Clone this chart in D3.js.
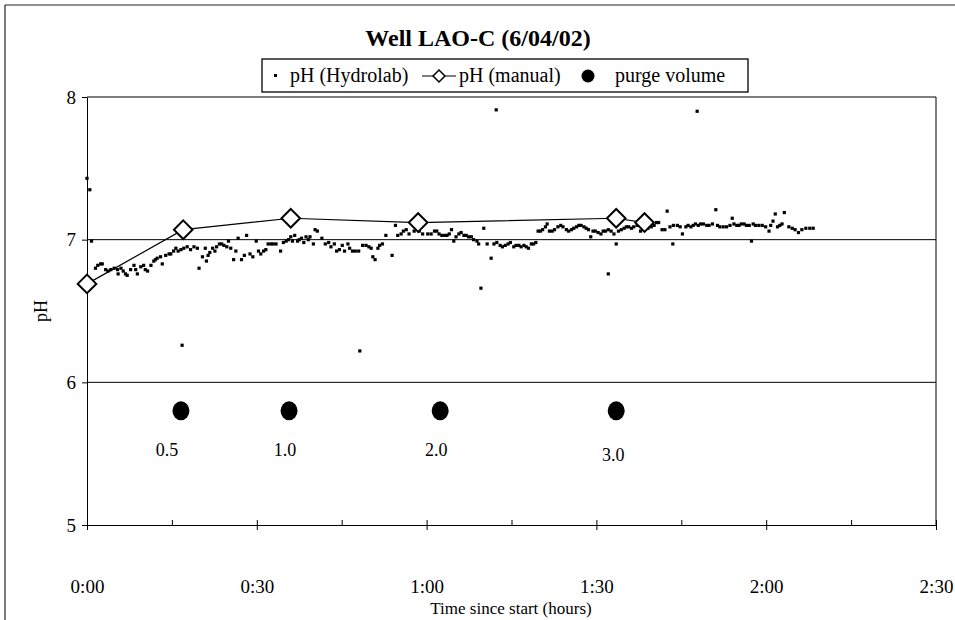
<!DOCTYPE html>
<html>
<head>
<meta charset="utf-8">
<title>Well LAO-C pH</title>
<script src="https://d3js.org/d3.v7.min.js"></script>
<style>
  body { margin: 0; background: #fff; }
  svg { font-family: "Liberation Serif", "Times New Roman", serif; }
  .axis path, .axis line { stroke: #000; }
  .axis text { font-size: 19px; fill: #000; font-family: "Liberation Serif", serif; }
</style>
</head>
<body>
<script>
// Hydrolab readings: minutes since start, pH
var hydroMin = [0, 0.5, 0.8, 1.5, 1.9, 2.4, 2.7, 3.3, 3.7, 4.2, 4.8, 5.4, 5.5, 6.0, 6.4, 6.8, 7.1, 7.7, 8.3, 8.6,
  8.9, 9.5, 10.0, 10.3, 10.7, 11.3, 11.8, 12.1, 12.4, 13.0, 13.3, 13.9, 14.5, 14.8, 15.3, 15.7, 16.1, 16.6, 16.8, 17.1,
  17.7, 18.3, 18.9, 19.5, 19.8, 20.4, 20.9, 21.1, 21.4, 21.7, 22.2, 22.6, 22.9, 23.4, 23.8, 24.2, 24.7, 25.0, 25.4, 25.9,
  26.3, 26.7, 27.3, 27.8, 28.2, 28.8, 29.3, 29.9, 30.3, 30.7, 31.2, 31.6, 32.0, 32.5, 32.9, 33.4, 34.2, 34.7, 35.2, 35.6,
  36.0, 36.3, 36.7, 37.2, 37.5, 37.9, 38.3, 38.7, 39.1, 39.4, 40.0, 40.3, 40.7, 41.5, 42.1, 42.7, 43.1, 43.7, 44.1, 44.6,
  45.1, 45.5, 46.1, 46.4, 46.9, 47.4, 48.0, 48.2, 48.7, 49.3, 49.8, 50.2, 50.5, 50.9, 51.4, 51.7, 52.2, 52.8, 53.9, 54.5,
  54.9, 55.5, 55.9, 56.4, 56.9, 57.8, 58.7, 59.3, 60.2, 60.8, 61.4, 61.8, 62.2, 62.7, 63.2, 63.6, 64.0, 64.4, 64.8, 65.2,
  65.7, 66.1, 66.6, 67.0, 67.4, 67.9, 68.3, 68.9, 69.2, 69.6, 70.1, 70.7, 71.4, 71.9, 72.3, 72.4, 73.0, 73.4, 73.9, 74.4,
  74.8, 75.4, 75.8, 76.3, 76.7, 77.2, 77.6, 78.0, 78.5, 78.9, 79.3, 79.7, 80.1, 80.5, 81.0, 81.3, 81.7, 82.2, 82.6, 83.2,
  83.7, 84.1, 84.7, 85.1, 85.6, 86.0, 86.5, 86.9, 87.3, 87.8, 88.2, 88.6, 89.0, 89.4, 89.8, 90.3, 90.8, 91.2, 91.6, 92.1,
  92.1, 92.6, 93.1, 93.5, 93.9, 94.4, 94.9, 95.3, 95.7, 96.2, 96.6, 97.2, 97.8, 98.4, 99.1, 99.7, 100.2, 100.6, 101.0, 101.6,
  102.1, 102.5, 103.0, 103.5, 103.6, 104.3, 104.8, 105.2, 105.8, 106.2, 106.7, 107.1, 107.5, 107.8, 108.0, 108.4, 108.9, 109.5, 109.9, 110.5,
  111.1, 111.4, 111.8, 112.4, 113.0, 113.6, 114.0, 114.3, 114.8, 115.2, 115.6, 116.1, 116.5, 117.0, 117.4, 117.7, 118.1, 118.7, 119.3, 119.9,
  120.5, 120.8, 121.2, 121.6, 122.0, 122.4, 122.8, 123.2, 124.0, 124.6, 125.1, 125.7, 126.3, 127.0, 127.7, 128.3];
var hydroPH = [7.43, 7.35, 6.99, 6.80, 6.82, 6.83, 6.83, 6.79, 6.78, 6.79, 6.80, 6.79, 6.76, 6.80, 6.78, 6.76, 6.75, 6.79, 6.82, 6.79,
  6.76, 6.81, 6.82, 6.79, 6.78, 6.82, 6.85, 6.86, 6.87, 6.88, 6.83, 6.89, 6.90, 6.90, 6.92, 6.94, 6.92, 6.93, 6.26, 6.94,
  6.95, 6.93, 6.95, 6.94, 6.80, 6.88, 6.94, 6.85, 6.89, 6.91, 6.94, 6.92, 6.95, 6.97, 6.97, 6.96, 6.95, 6.99, 6.94, 6.86,
  6.92, 7.01, 6.86, 6.89, 7.03, 6.90, 6.88, 6.99, 6.92, 6.90, 6.92, 6.93, 6.97, 6.97, 6.97, 6.97, 6.92, 6.98, 6.99, 7.00,
  7.02, 6.99, 7.03, 6.99, 7.00, 7.01, 6.98, 7.02, 7.00, 7.02, 6.97, 7.07, 7.06, 7.01, 6.97, 6.98, 6.95, 6.97, 6.92, 6.93,
  6.96, 6.92, 6.97, 6.94, 6.92, 6.92, 6.92, 6.22, 6.96, 6.96, 6.95, 6.94, 6.88, 6.86, 6.94, 6.96, 6.97, 7.03, 6.89, 7.10,
  7.03, 7.04, 7.06, 7.07, 7.04, 7.06, 7.06, 7.04, 7.04, 7.04, 7.06, 7.06, 7.04, 7.03, 7.03, 7.03, 7.04, 7.07, 6.99, 7.02,
  7.04, 7.05, 7.03, 7.03, 7.02, 7.02, 7.00, 6.99, 6.97, 6.66, 7.08, 6.97, 6.87, 6.97, 7.91, 6.98, 6.96, 6.95, 6.96, 6.97,
  6.98, 6.95, 6.96, 6.96, 6.95, 6.96, 6.95, 6.94, 6.97, 6.97, 6.98, 7.06, 7.06, 7.07, 7.09, 7.11, 7.06, 7.06, 7.07, 7.09,
  7.10, 7.09, 7.07, 7.06, 7.07, 7.08, 7.09, 7.10, 7.10, 7.09, 7.08, 7.07, 7.02, 7.06, 7.06, 7.05, 7.04, 7.06, 7.06, 7.07,
  6.76, 7.06, 7.04, 6.97, 7.06, 7.07, 7.08, 7.09, 7.09, 7.08, 7.09, 7.10, 7.06, 7.08, 7.08, 7.09, 7.10, 7.12, 7.12, 7.07,
  7.07, 7.20, 7.09, 6.97, 7.10, 7.10, 7.09, 7.04, 7.09, 7.10, 7.09, 7.10, 7.11, 7.90, 7.10, 7.11, 7.11, 7.10, 7.10, 7.11,
  7.21, 7.10, 7.09, 7.09, 7.09, 7.10, 7.15, 7.11, 7.10, 7.10, 7.11, 7.11, 7.10, 7.10, 6.99, 7.11, 7.10, 7.10, 7.10, 7.09,
  7.06, 7.10, 7.13, 7.18, 7.09, 7.10, 7.11, 7.19, 7.09, 7.08, 7.07, 7.05, 7.07, 7.08, 7.08, 7.08];

// manual pH readings
var manualMin = [0, 17, 36, 58.5, 93.5, 98.5];
var manualPH = [6.69, 7.07, 7.15, 7.12, 7.15, 7.12];

// purge volume markers
var purgeMin = [16.6, 35.7, 62.4, 93.5];
var purgePH = [5.8, 5.8, 5.8, 5.8];
var purgeLabels = ["0.5", "1.0", "2.0", "3.0"];

var yTicks = [5, 6, 7, 8];
var xTicks = [0, 30, 60, 90, 120, 150];
var xMinorTicks = [15, 45, 75, 105, 135];

var W = 955, H = 620;
var mLeft = 87, mRight = 936, mTop = 97, mBottom = 525;

var svg = d3.select("body").append("svg")
    .attr("width", W)
    .attr("height", H);

var x = d3.scaleLinear().domain([0, 150]).range([mLeft, mRight]);
var y = d3.scaleLinear().domain([5, 8]).range([mBottom, mTop]);

// page frame (top and left edges of the scanned figure)
svg.append("line").attr("x1", 5).attr("x2", W).attr("y1", 5).attr("y2", 5)
    .attr("stroke", "#222").attr("stroke-width", 1.2);
svg.append("line").attr("x1", 5).attr("x2", 5).attr("y1", 5).attr("y2", H)
    .attr("stroke", "#222").attr("stroke-width", 1.2);

// title
svg.append("text")
    .attr("x", 478).attr("y", 46)
    .attr("text-anchor", "middle")
    .style("font-size", "24px").style("font-weight", "bold")
    .text("Well LAO-C (6/04/02)");

// horizontal gridlines
svg.append("g").selectAll("line")
    .data(yTicks.filter(function(d) { return d > 5; }))
    .enter().append("line")
    .attr("x1", mLeft).attr("x2", mRight)
    .attr("y1", function(d) { return y(d); })
    .attr("y2", function(d) { return y(d); })
    .attr("stroke", "#000").attr("stroke-width", 1);

// right border
svg.append("line").attr("x1", mRight).attr("x2", mRight).attr("y1", mTop).attr("y2", mBottom)
    .attr("stroke", "#000").attr("stroke-width", 1);

// y axis
svg.append("g")
    .attr("class", "axis")
    .attr("transform", "translate(" + mLeft + ",0)")
    .call(d3.axisLeft(y).tickValues(yTicks).tickSize(5).tickSizeOuter(0).tickPadding(6)
        .tickFormat(d3.format("d")));

// x axis
var fmt = function(m) { return Math.floor(m / 60) + ":" + d3.format("02d")(m % 60); };
svg.append("g")
    .attr("class", "axis")
    .attr("transform", "translate(0," + mBottom + ")")
    .call(d3.axisBottom(x).tickValues(xTicks).tickSize(5).tickSizeOuter(0).tickPadding(50)
        .tickFormat(fmt));

// ticks reaching into the plot: majors and the 15-minute minors
svg.append("g")
    .attr("class", "axis")
    .attr("transform", "translate(0," + mBottom + ")")
    .call(d3.axisBottom(x).tickValues(xTicks.concat(xMinorTicks)).tickSize(-5).tickSizeOuter(0)
        .tickFormat(""))
    .select(".domain").remove();

// axis titles
svg.append("text")
    .attr("transform", "translate(47,311) rotate(-90)")
    .attr("text-anchor", "middle")
    .style("font-size", "18px")
    .text("pH");
svg.append("text")
    .attr("x", 511).attr("y", 614)
    .attr("text-anchor", "middle")
    .style("font-size", "17px")
    .text("Time since start (hours)");

// hydrolab points
svg.append("g").selectAll("rect")
    .data(hydroMin)
    .enter().append("rect")
    .attr("x", function(d) { return x(d) - 1.6; })
    .attr("y", function(d, i) { return y(hydroPH[i]) - 1.6; })
    .attr("width", 3.2).attr("height", 3.2)
    .attr("fill", "#000");

// manual pH line + diamonds
var manual = manualMin.map(function(d, i) { return [d, manualPH[i]]; });
svg.append("path")
    .datum(manual)
    .attr("fill", "none").attr("stroke", "#000").attr("stroke-width", 1.2)
    .attr("d", d3.line().x(function(d) { return x(d[0]); }).y(function(d) { return y(d[1]); }));

var diamond = d3.symbol().type(d3.symbolDiamond2).size(220);
svg.append("g").selectAll("path")
    .data(manual)
    .enter().append("path")
    .attr("d", diamond)
    .attr("transform", function(d) { return "translate(" + x(d[0]) + "," + y(d[1]) + ")"; })
    .attr("fill", "#fff").attr("stroke", "#000").attr("stroke-width", 2);

// purge volume markers and labels
svg.append("g").selectAll("ellipse")
    .data(purgeMin)
    .enter().append("ellipse")
    .attr("cx", function(d) { return x(d); })
    .attr("cy", function(d, i) { return y(purgePH[i]); })
    .attr("rx", 8.5).attr("ry", 9.5)
    .attr("fill", "#000");

// label nudges as placed on the original sheet
var labelDx = [-14, -4, -4, -3], labelDy = [45, 45, 45, 50];
svg.append("g").selectAll("text")
    .data(purgeLabels)
    .enter().append("text")
    .attr("x", function(d, i) { return x(purgeMin[i]) + labelDx[i]; })
    .attr("y", function(d, i) { return y(purgePH[i]) + labelDy[i]; })
    .attr("text-anchor", "middle")
    .style("font-size", "18px")
    .text(function(d) { return d; });

// legend
var lg = svg.append("g");
lg.append("rect")
    .attr("x", 262).attr("y", 59).attr("width", 486).attr("height", 33)
    .attr("fill", "#fff").attr("stroke", "#000").attr("stroke-width", 1.3);
lg.append("rect").attr("x", 274).attr("y", 74).attr("width", 3).attr("height", 3).attr("fill", "#000");
lg.append("text").attr("x", 290).attr("y", 82).style("font-size", "20px").text("pH (Hydrolab)");
lg.append("line").attr("x1", 422).attr("x2", 456).attr("y1", 76).attr("y2", 76)
    .attr("stroke", "#000").attr("stroke-width", 1.2);
lg.append("path").attr("d", d3.symbol().type(d3.symbolDiamond2).size(90))
    .attr("transform", "translate(439,76)")
    .attr("fill", "#fff").attr("stroke", "#000").attr("stroke-width", 1.5);
lg.append("text").attr("x", 459).attr("y", 82).style("font-size", "20px").text("pH (manual)");
lg.append("circle").attr("cx", 588).attr("cy", 76).attr("r", 6.5).attr("fill", "#000");
lg.append("text").attr("x", 615).attr("y", 82).style("font-size", "20px").text("purge volume");
</script>
</body>
</html>
